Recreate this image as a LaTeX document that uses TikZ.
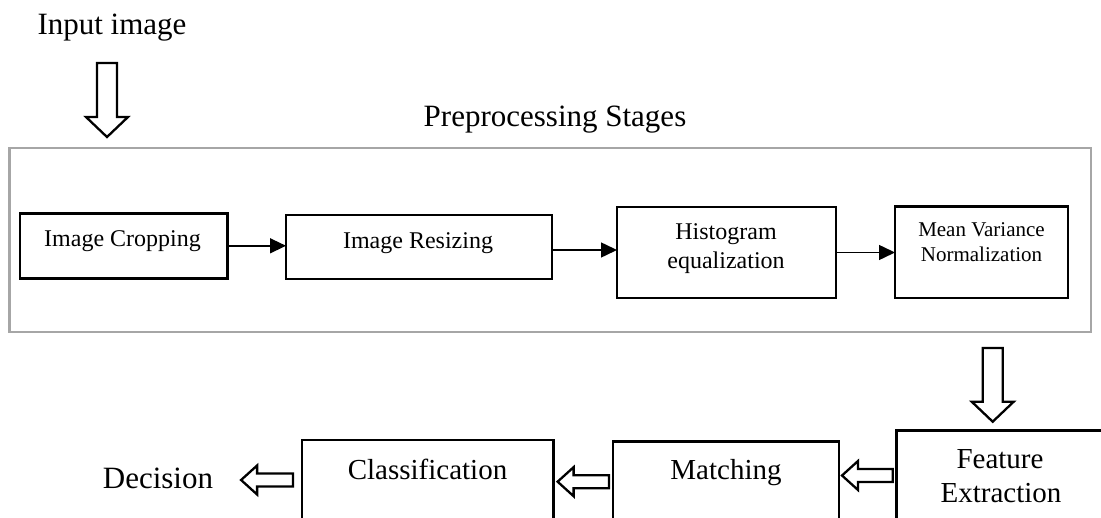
\documentclass[tikz,border=0pt]{standalone}
\usepackage{fontspec}
\setmainfont{Liberation Serif}
\usetikzlibrary{arrows.meta,calc}
\definecolor{framegray}{RGB}{166,166,166}

\newcommand\fsz[1]{\fontsize{#1}{#1}\selectfont}

% hollow block arrow pointing left: #1 tail point, #2 tip point (same height)
\newcommand\leftblock[2]{%
  \draw[hollow] let \p1=#1, \p2=#2 in
    (\x1,\y1+6.5pt) -- (\x2+16pt,\y1+6.5pt) -- (\x2+16pt,\y1+14.5pt) -- (\x2,\y1)
    -- (\x2+16pt,\y1-14.5pt) -- (\x2+16pt,\y1-6.5pt) -- (\x1,\y1-6.5pt) -- cycle;}

% hollow block arrow pointing down: #1 top point, #2 tip point (same column)
\newcommand\downblock[2]{%
  \draw[hollow] let \p1=#1, \p2=#2 in
    (\x1-10pt,\y1) -- (\x1-10pt,\y2+20pt) -- (\x1-21pt,\y2+20pt) -- (\x1,\y2)
    -- (\x1+21pt,\y2+20pt) -- (\x1+10pt,\y2+20pt) -- (\x1+10pt,\y1) -- cycle;}

\begin{document}
\begin{tikzpicture}[x=1pt,y=-1pt,
  stagebox/.style={draw=black, line width=2.5pt, fill=white, inner sep=0pt,
    outer sep=0pt, anchor=north west},
  framebox/.style={draw=framegray, line width=2.4pt, inner sep=0pt,
    outer sep=0pt, anchor=north west},
  lbl/.style={inner sep=0pt, outer sep=0pt, anchor=base},
  flow/.style={line width=1.5pt, -{Triangle[length=16pt,width=15pt]}},
  hollow/.style={draw=black, fill=white, line width=2.3pt, line join=miter}]

\useasboundingbox (0,0) rectangle (1101,518);
\fill[white] (0,0) rectangle (1101,518);
\clip (0,0) rectangle (1101,518);

% input and preprocessing frame
\node[lbl, font=\fsz{31}] (inp) at (112,35) {Input image};
\node[lbl, font=\fsz{31}] (title) at (555,127) {Preprocessing Stages};
\node[framebox, minimum width=1081.5pt, minimum height=184pt] (gray) at (9.5,148) {};

% preprocessing stages
\node[stagebox, minimum width=207.7pt, minimum height=65pt] (crop) at (20,213.3) {};
\node[stagebox, minimum width=265.8pt, minimum height=64pt] (resize) at (286,215) {};
\node[stagebox, minimum width=219pt, minimum height=91pt] (hist) at (617,207) {};
\node[stagebox, minimum width=173pt, minimum height=91.3pt] (mean) at (895,206.7) {};

\node[lbl, font=\fsz{24}] (cropT) at (122.5,246.7) {Image Cropping};
\node[lbl, font=\fsz{24}] (resizeT) at (418,248.3) {Image Resizing};
\node[lbl, font=\fsz{24}] (histA) at (726,240) {Histogram};
\node[lbl, font=\fsz{24}] (histB) at (726,268.3) {equalization};
\node[lbl, font=\fsz{21}] (meanA) at (981.5,236.7) {Mean Variance};
\node[lbl, font=\fsz{21}] (meanB) at (981.5,261.7) {Normalization};

\coordinate (row) at (0,250);
\draw[flow] (crop.east) -- (crop.east -| resize.west);
\draw[flow] (resize.east |- row) -- (hist.west |- row);
\draw[flow] (hist.east) -- (hist.east -| mean.west);

% recognition stages
\node[stagebox, minimum width=300pt, minimum height=200pt] (feat) at (896.7,430.7) {};
\node[stagebox, minimum width=226pt, minimum height=200pt] (match) at (613,441.5) {};
\node[stagebox, minimum width=251.6pt, minimum height=200pt] (class) at (302,440) {};

\node[lbl, font=\fsz{29}] (featA) at (1000,469) {Feature};
\node[lbl, font=\fsz{29}] (featB) at (1001,502.5) {Extraction};
\node[lbl, font=\fsz{29}] (matchT) at (726,479) {Matching};
\node[lbl, font=\fsz{29}] (classT) at (427.5,479) {Classification};
\node[lbl, font=\fsz{31}] (dec) at (158,488.3) {Decision};

% block arrows
\coordinate (inCol) at (107,63);
\downblock{(inCol)}{($(gray.north -| inCol)+(0,-11)$)}

\coordinate (outCol) at (992.7,0);
\downblock{($(gray.south -| outCol)+(0,16)$)}{($(feat.north -| outCol)+(0,-9)$)}

\coordinate (r1) at (0,475.5);
\coordinate (r2) at (0,481.7);
\coordinate (r3) at (0,480);
\leftblock{($(feat.west |- r1)+(-4,0)$)}{($(match.east |- r1)+(3,0)$)}
\leftblock{($(match.west |- r2)+(-4,0)$)}{($(class.east |- r2)+(4,0)$)}
\leftblock{($(class.west |- r3)+(-9,0)$)}{($(dec.east |- r3)+(28,0)$)}

\end{tikzpicture}
\end{document}
